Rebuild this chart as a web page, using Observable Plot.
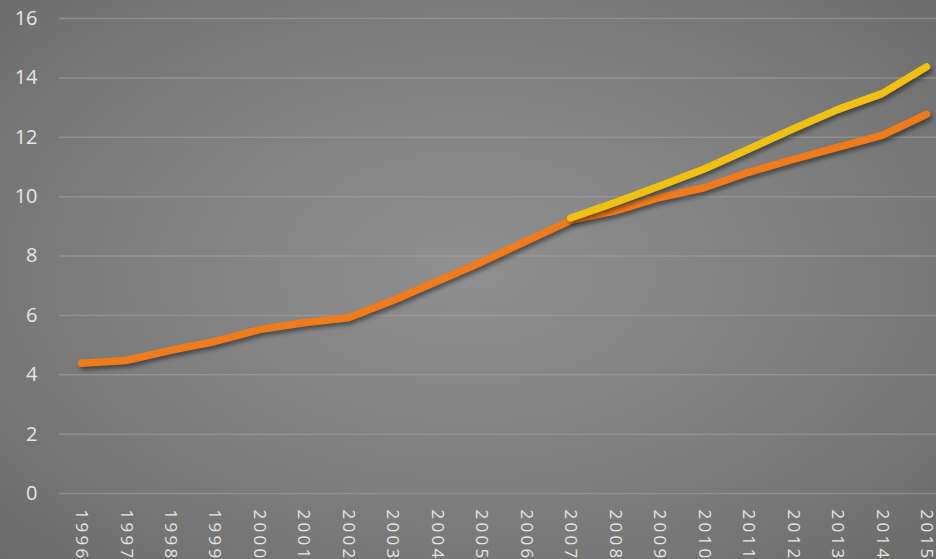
<!DOCTYPE html>
<html>
<head>
<meta charset="utf-8">
<script src="https://cdn.jsdelivr.net/npm/d3@7"></script>
<script src="https://cdn.jsdelivr.net/npm/@observablehq/plot@0.6"></script>
<style>
  html, body { margin: 0; padding: 0; background: #7a7a7a; }
  #chart svg { display: block; }
  #chart svg g[aria-label="line"] path {
    filter: drop-shadow(2px 3px 2px rgba(0,0,0,0.45));
  }
  #chart svg g[aria-label="x-axis tick label"] text {
    letter-spacing: 3.3px;
  }
</style>
</head>
<body>
<div id="chart"></div>
<script>
const years = [1996,1997,1998,1999,2000,2001,2002,2003,2004,2005,2006,2007,2008,2009,2010,2011,2012,2013,2014,2015];
const orangeValues = [4.39,4.48,4.82,5.12,5.52,5.75,5.92,6.5,7.15,7.8,8.5,9.2,9.52,9.97,10.3,10.82,11.25,11.66,12.06,12.77];
const yellowYears = [2007,2008,2009,2010,2011,2012,2013,2014,2015];
const yellowValues = [9.28,9.8,10.36,10.93,11.6,12.28,12.93,13.47,14.37];
const yTicks = [0,2,4,6,8,10,12,14,16];

const orange = years.map((y, i) => ({year: y, value: orangeValues[i]}));
const yellow = yellowYears.map((y, i) => ({year: y, value: yellowValues[i]}));

const chart = Plot.plot({
  width: 936,
  height: 559,
  marginLeft: 59,
  marginRight: 0,
  marginTop: 18,
  marginBottom: 66,
  style: {
    fontFamily: "'Open Sans', Lato, sans-serif",
    color: "#e4e4e4",
    background: "radial-gradient(ellipse at 50% 48%, #909090 0%, #7e7e7e 55%, #6b6b6b 100%)"
  },
  x: {type: "linear", domain: [1996, 2015], range: [81, 926], axis: null},
  y: {domain: [0, 16], axis: null},
  marks: [
    Plot.ruleY(yTicks, {stroke: "#a0a0a0", strokeWidth: 1.5, strokeOpacity: 0.6}),
    Plot.axisY(yTicks, {tickSize: 0, tickPadding: 0, fontSize: 20, dx: -22, textAnchor: "end", fill: "#e6e6e6", label: null}),
    Plot.axisX(years, {tickSize: 0, tickRotate: 90, fontSize: 17, dy: 7, fill: "#e6e6e6", tickFormat: d => String(d), label: null, textAnchor: "start"}),
    Plot.line(orange, {x: "year", y: "value", stroke: "#f07b1c", strokeWidth: 7.5, strokeLinecap: "round", strokeLinejoin: "round"}),
    Plot.line(yellow, {x: "year", y: "value", stroke: "#f0c012", strokeWidth: 7.5, strokeLinecap: "round", strokeLinejoin: "round"})
  ]
});
document.getElementById("chart").appendChild(chart);
</script>
</body>
</html>
